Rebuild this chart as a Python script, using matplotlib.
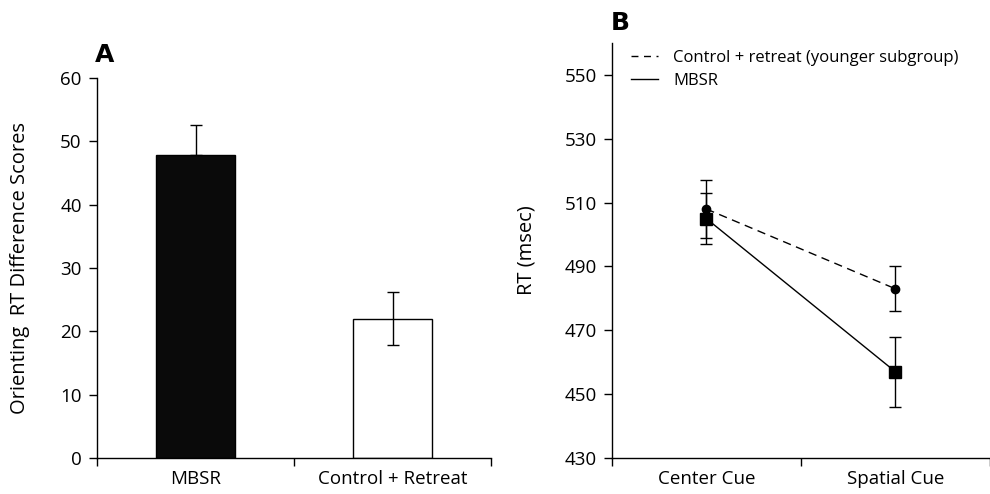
import matplotlib.pyplot as plt
from matplotlib.lines import Line2D

plt.rcParams['font.family'] = ['Open Sans', 'DejaVu Sans']

# panel A data
groups = ['MBSR', 'Control + Retreat']
diff_scores = [47.8, 22.0]
diff_err_hi = [4.8, 4.2]
diff_err_lo = [0, 4.2]

# panel B data
cues = ['Center Cue', 'Spatial Cue']
ctrl_rt = [508, 483]
ctrl_err_hi = [9, 7]
ctrl_err_lo = [9, 7]
mbsr_rt = [505, 457]
mbsr_err_hi = [8, 11]
mbsr_err_lo = [8, 11]

fig = plt.figure(figsize=(9.9, 4.94), dpi=100)
axA = fig.add_axes([0.098, 0.0729, 0.398, 0.769])
axB = fig.add_axes([0.618, 0.0729, 0.382, 0.840])

for ax in (axA, axB):
    ax.spines['top'].set_visible(False)
    ax.spines['right'].set_visible(False)
    ax.spines['left'].set_linewidth(1)
    ax.spines['bottom'].set_linewidth(1)
    ax.tick_params(axis='y', direction='out', length=6, width=1, labelsize=13.5, pad=5)
    ax.tick_params(axis='x', which='major', direction='out', length=6, width=1, labelbottom=False)
    ax.tick_params(axis='x', which='minor', length=0, labelsize=13.5, pad=9)
    ax.set_xlim(0, 2)
    ax.set_xticks([0, 1, 2])
    ax.set_xticks([0.5, 1.5], minor=True)

# A: bars
pos = [0.5, 1.5]
axA.bar(pos, diff_scores, width=0.4, color=['#0a0a0a', 'white'], edgecolor='black', linewidth=1)
axA.errorbar(pos, diff_scores, yerr=[diff_err_lo, diff_err_hi], fmt='none', ecolor='black',
             elinewidth=1, capsize=4, capthick=1)
axA.set_ylim(0, 60)
axA.set_yticks(range(0, 61, 10))
axA.set_xticklabels(groups, minor=True)
axA.set_ylabel('Orienting  RT Difference Scores', fontsize=14.5, labelpad=22)
fig.text(0.096, 0.875, 'A', fontsize=18, fontweight='bold', family='DejaVu Sans')

# B: lines
axB.errorbar(pos, ctrl_rt, yerr=[ctrl_err_lo, ctrl_err_hi], color='black', dashes=(6, 4),
             linewidth=1, marker='o', markersize=6, capsize=4, capthick=1, elinewidth=1)
axB.errorbar(pos, mbsr_rt, yerr=[mbsr_err_lo, mbsr_err_hi], color='black', linestyle='-',
             linewidth=1, marker='s', markersize=8, capsize=4, capthick=1, elinewidth=1)
axB.set_ylim(430, 560)
axB.set_yticks(range(430, 551, 20))
axB.set_xticklabels(cues, minor=True)
axB.set_ylabel('RT (msec)', fontsize=14.5, labelpad=20)
handles = [Line2D([], [], color='black', dashes=(5, 4), linewidth=1),
           Line2D([], [], color='black', linestyle='-', linewidth=1)]
labels = ['Control + retreat (younger subgroup)', 'MBSR']
axB.legend(handles, labels, loc='upper left', bbox_to_anchor=(0.012, 1.02), frameon=False,
           fontsize=12, handlelength=1.6, handletextpad=0.9, labelspacing=0.45)
fig.text(0.617, 0.94, 'B', fontsize=18, fontweight='bold', family='DejaVu Sans')

fig.savefig('out.png', dpi=100)
